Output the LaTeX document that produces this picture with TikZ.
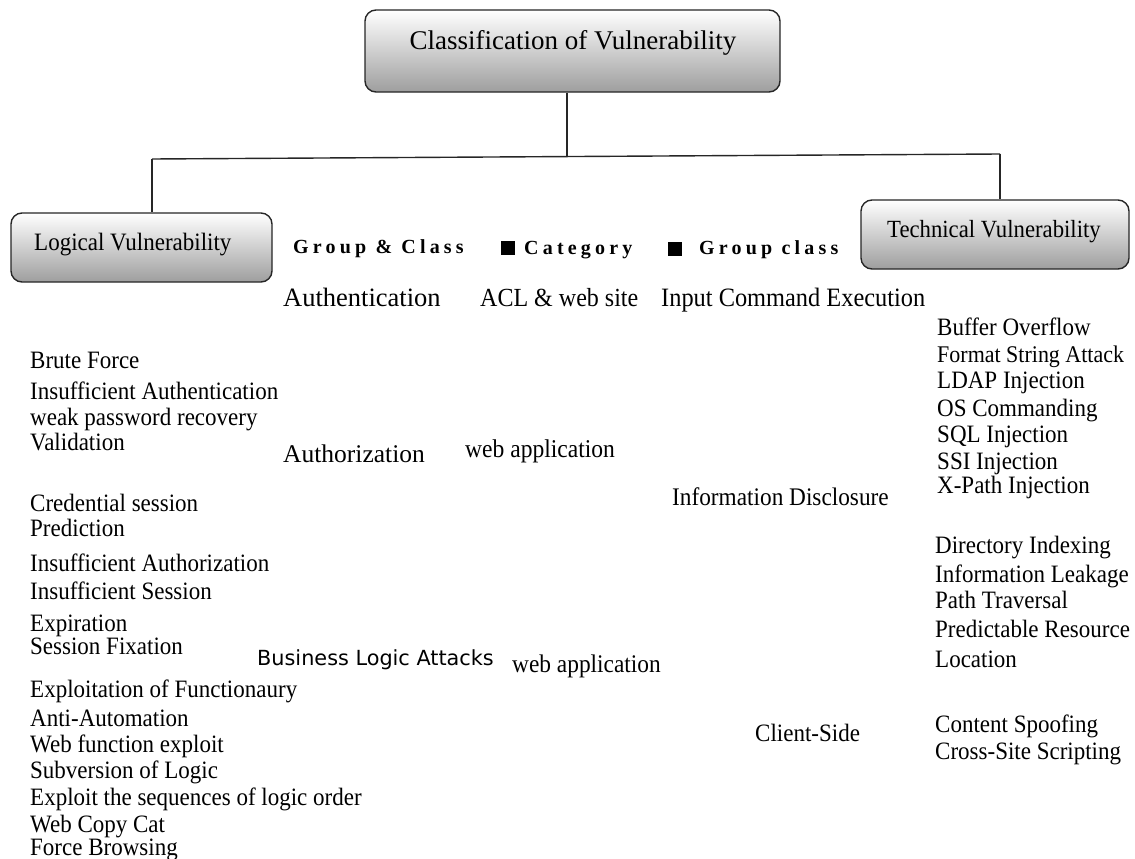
\documentclass[tikz,border=0pt]{standalone}
\usepackage{fontspec}
\setmainfont{Liberation Serif}[FakeStretch=0.92]
\newfontfamily\plainserif{Liberation Serif}
\newfontfamily\sansdv{DejaVu Sans}
\newfontfamily\spacedfont[LetterSpace=21]{Liberation Serif}
\usetikzlibrary{calc}
\begin{document}
\begin{tikzpicture}[x=1pt,y=-1pt,
  vbox/.style={draw=black!85, line width=1.4pt, rounded corners=11pt, top color=white, bottom color=black!38, inner sep=0pt},
  tx/.style={anchor=base west, inner sep=0pt, text=black},
  conn/.style={draw=black!85, line width=1.4pt},
  fl/.style={tx, font=\fontsize{25}{29}\selectfont},
  fr/.style={tx, font=\fontsize{25}{29}\selectfont},
  leg/.style={tx, font=\spacedfont\bfseries\fontsize{20}{24}\selectfont},
  sq/.style={fill=black, draw=none, minimum size=14pt, inner sep=0pt}]
\useasboundingbox (0,0) rectangle (1135,859);

% boxes
\node[vbox, minimum width=415pt, minimum height=82pt] (root) at (572.5,51) {};
\node[tx, anchor=base, font=\plainserif\fontsize{27}{30}\selectfont] (roottxt) at (573,50) {Classification of Vulnerability};
\node[vbox, minimum width=261pt, minimum height=69pt] (logi) at (141.5,247.5) {};
\node[tx, font=\fontsize{25}{29}\selectfont] (logitxt) at (34,250) {Logical Vulnerability};
\node[vbox, minimum width=268pt, minimum height=69pt] (tech) at (995,234.5) {};
\node[tx, font=\fontsize{24.7}{29}\selectfont] (techtxt) at (887,237) {Technical Vulnerability};

% connectors
\coordinate (jl) at (152,159);
\coordinate (jr) at (1000,154);
\coordinate (jm) at ($(jl)!0.4894!(jr)$);
\draw[conn] (root.south -| jm) -- (jm);
\draw[conn] (jl) -- (jr);
\draw[conn] (jl) -- (jl |- logi.north);
\draw[conn] (jr) -- (jr |- tech.north);

% legend
\node[leg] (lg1) at (293,253) {Group \& Class};
\node[sq] (sq1) at (508,248) {};
\node[leg] (lg2) at (524,254) {Category};
\node[sq] (sq2) at (674.5,249) {};
\node[leg] (lg3) at (699,254) {Group class};

% headings row
\node[tx, font=\plainserif\fontsize{26.5}{30}\selectfont] (auth) at (283,306) {Authentication};
\node[tx, font=\fontsize{26.1}{30}\selectfont] (acl) at (480,306) {ACL \& web site};
\node[tx, font=\fontsize{26.5}{30}\selectfont] (ice) at (661,306) {Input Command Execution};

% left list
\node[fl] (l1) at (30,368) {Brute Force};
\node[fl] (l2) at (30,399) {Insufficient Authentication};
\node[fl] (l3) at (30,425) {weak password recovery};
\node[fl] (l4) at (30,450) {Validation};
\node[fl] (l5) at (30,511) {Credential session};
\node[fl] (l6) at (30,536) {Prediction};
\node[fl] (l7) at (30,571) {Insufficient Authorization};
\node[fl] (l8) at (30,599) {Insufficient Session};
\node[fl] (l9) at (30,631) {Expiration};
\node[fl] (l10) at (30,654) {Session Fixation};
\node[fl] (l11) at (30,697) {Exploitation of Functionaury};
\node[fl] (l12) at (30,726) {Anti-Automation};
\node[fl] (l13) at (30,752) {Web function exploit};
\node[fl] (l14) at (30,778) {Subversion of Logic};
\node[fl] (l15) at (30,805) {Exploit the sequences of logic order};
\node[fl] (l16) at (30,832) {Web Copy Cat};
\node[fl] (l17) at (30,855) {Force Browsing};

% middle labels
\node[tx, font=\plainserif\fontsize{25.5}{29}\selectfont] (authz) at (283,462) {Authorization};
\node[tx, font=\fontsize{25.6}{29}\selectfont] (wa1) at (465,457) {web application};
\node[tx, font=\sansdv\fontsize{20.8}{25}\selectfont] (bla) at (257,665) {Business Logic Attacks};
\node[tx, font=\fontsize{25.4}{29}\selectfont] (wa2) at (512,672) {web application};
\node[tx, font=\fontsize{25.3}{29}\selectfont] (infd) at (672,505) {Information Disclosure};
\node[tx, font=\fontsize{25}{29}\selectfont] (cs) at (755,741) {Client-Side};

% right list
\node[fr] (r1) at (937,335) {Buffer Overflow};
\node[fr, font=\fontsize{23.9}{29}\selectfont] (r2) at (937,362) {Format String Attack};
\node[fr] (r3) at (937,388) {LDAP Injection};
\node[fr] (r4) at (937,416) {OS Commanding};
\node[fr] (r5) at (937,442) {SQL Injection};
\node[fr] (r6) at (937,469) {SSI Injection};
\node[fr] (r7) at (937,493) {X-Path Injection};
\node[fr] (r8) at (935,553) {Directory Indexing};
\node[fr] (r9) at (935,582) {Information Leakage};
\node[fr] (r10) at (935,608) {Path Traversal};
\node[fr] (r11) at (935,637) {Predictable Resource};
\node[fr] (r12) at (935,667) {Location};
\node[fr] (r13) at (935,732) {Content Spoofing};
\node[fr] (r14) at (935,759) {Cross-Site Scripting};
\end{tikzpicture}
\end{document}
